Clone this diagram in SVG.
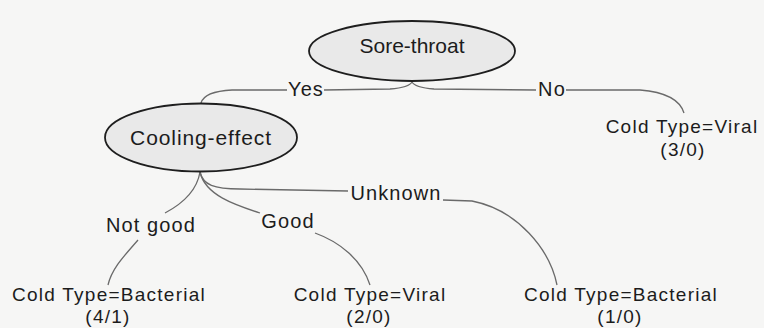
<svg xmlns="http://www.w3.org/2000/svg" width="764" height="328" viewBox="0 0 764 328">
<style>
.bg{fill:#f6f6f5}
.node{fill:#e9e9e9;stroke:#1e1e1e;stroke-width:1.8}
.edge{fill:none;stroke:#6a6a6a;stroke-width:1.3}
text{font-family:"Liberation Sans",Arial,sans-serif;fill:#1c1c1c;text-anchor:middle}
.nt{font-size:21px}
.lbl{font-size:20px;letter-spacing:1.1px}
.leaf{font-size:19px;letter-spacing:1.25px}
</style>
<rect class="bg" x="0" y="0" width="764" height="328"/>
<g id="connectors">
<path class="edge" d="M324,90 L390,89 C402,88 410,86 412,82 C414,86 422,88 434,89 L536,90"/>
<path class="edge" d="M287,90 L232,90 C213,91 203,96 201,103"/>
<path class="edge" d="M566,90 L640,90 C665,92 680,100 684,113"/>
<path class="edge" d="M200,172 C197,190 182,204 165,213"/>
<path class="edge" d="M200,172 C205,195 235,205 260,213"/>
<path class="edge" d="M200,172 C203,185 214,189 240,189 L348,191"/>
<path class="edge" d="M138,240 C125,255 112,268 108,285"/>
<path class="edge" d="M315,233 C340,242 362,260 370,285"/>
<path class="edge" d="M443,200 L472,201 C518,210 550,250 557,285"/>
</g>
<g id="n-sore-throat">
<ellipse class="node" cx="412" cy="51" rx="103" ry="30"/>
<text class="nt" x="412" y="53">Sore-throat</text>
</g>
<g id="n-cooling-effect">
<ellipse class="node" cx="201" cy="137.5" rx="96" ry="34"/>
<text class="nt" x="201" y="145" style="letter-spacing:0.9px">Cooling-effect</text>
</g>
<g id="edge-labels">
<text class="lbl" x="306" y="96">Yes</text>
<text class="lbl" x="552" y="96">No</text>
<text class="lbl" x="151" y="232">Not good</text>
<text class="lbl" x="288" y="228">Good</text>
<text class="lbl" x="396" y="200">Unknown</text>
</g>
<g id="leaf-viral-no">
<text class="leaf" x="682" y="133">Cold Type=Viral</text>
<text class="leaf" x="683" y="156">(3/0)</text>
</g>
<g id="leaf-bacterial-notgood">
<text class="leaf" x="109" y="301">Cold Type=Bacterial</text>
<text class="leaf" x="108" y="323">(4/1)</text>
</g>
<g id="leaf-viral-good">
<text class="leaf" x="370" y="301">Cold Type=Viral</text>
<text class="leaf" x="369" y="323">(2/0)</text>
</g>
<g id="leaf-bacterial-unknown">
<text class="leaf" x="621" y="301">Cold Type=Bacterial</text>
<text class="leaf" x="620" y="323">(1/0)</text>
</g>
</svg>
